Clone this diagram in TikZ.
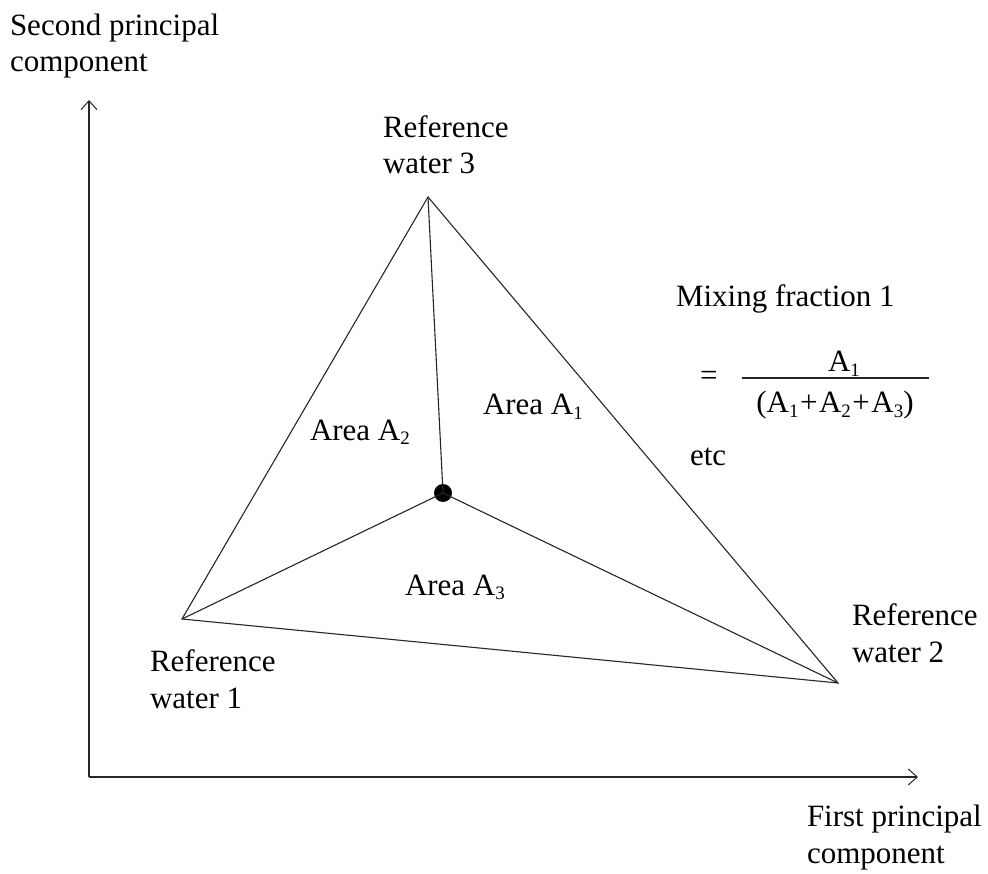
\documentclass[tikz,border=0pt]{standalone}
\usepackage{fontspec}
\setmainfont{Liberation Serif}
\usetikzlibrary{arrows.meta}
\newcommand{\sbx}[1]{\raisebox{-0.35ex}{\fontsize{19}{19}\selectfont #1}}
\newcommand{\pls}{\hspace{1.5pt}+\hspace{1.5pt}}
\tikzset{
  lbl/.style={inner sep=0pt, outer sep=0pt, align=left, font=\fontsize{31}{36.5}\selectfont, anchor=base west},
  edge/.style={line width=1.1pt, draw=black!85},
  axis/.style={line width=1.1pt, draw=black!85, -{Straight Barb[length=9pt,width=16pt,line width=1pt]}},
}
\begin{document}
\begin{tikzpicture}[x=1pt,y=-1pt]
\useasboundingbox (0,0) rectangle (988,874);
% axes
\coordinate (o) at (89,777);
\coordinate (ytip) at (89,100);
\coordinate (xtip) at (918,777);
\draw[axis] (o) -- (ytip);
\draw[axis] (o) -- (xtip);
% triangle
\coordinate (r1) at (182,619);
\coordinate (r2) at (838,683);
\coordinate (r3) at (428,197);
\node[circle, fill=black, inner sep=0pt, minimum size=18pt] (p) at (443,493) {};
\draw[edge] (r1) -- (r2) -- (r3) -- cycle;
\draw[edge] (p.center) -- (r1);
\draw[edge] (p.center) -- (r2);
\draw[edge] (p.center) -- (r3);
% labels (two-line labels: anchor is the baseline of the second line)
\node[lbl] (ylab) at (10,72) {Second principal\\component};
\node[lbl] (xlab) at (807,863) {First principal\\component};
\node[lbl] (l3) at (383,174) {Reference\\water 3};
\node[lbl] (l2) at (852,662) {Reference\\water 2};
\node[lbl] (l1) at (150,708) {Reference\\water 1};
\node[lbl] (a1) at (483,415) {Area A\sbx{1}};
\node[lbl] (a2) at (310,440) {Area A\sbx{2}};
\node[lbl] (a3) at (405,595) {Area A\sbx{3}};
\node[lbl] (etc) at (690,465) {etc};
\node[lbl] (mix) at (676,307) {Mixing fraction 1};
\node[lbl] (eq) at (700,386) {=};
\coordinate (f1) at (742,378);
\coordinate (f2) at (929,378);
\draw[edge] (f1) -- (f2);
\node[lbl] (num) at (828,372) {A\sbx{1}};
\node[lbl, anchor=base] (den) at (835,413) {(A\sbx{1}\pls A\sbx{2}\pls A\sbx{3})};
\end{tikzpicture}
\end{document}
